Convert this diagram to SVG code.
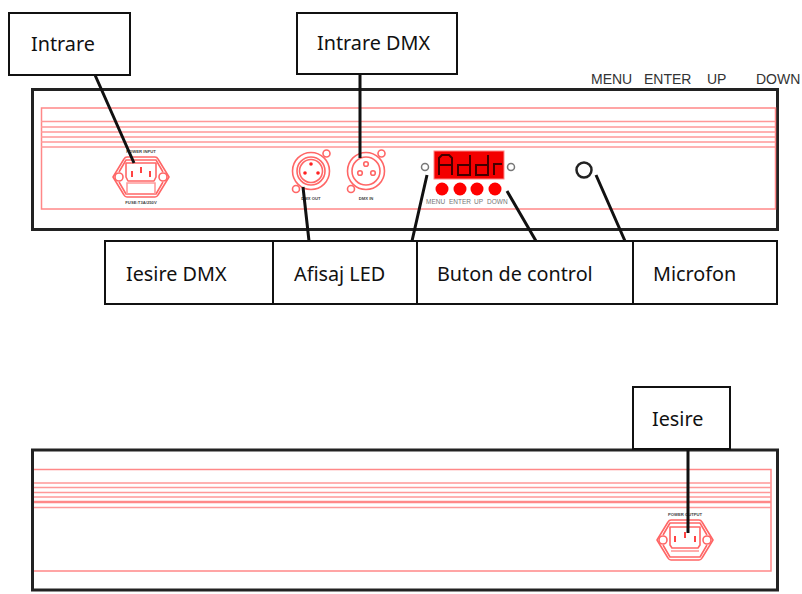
<svg xmlns="http://www.w3.org/2000/svg" width="802" height="594" viewBox="0 0 802 594">
<style>
.panel{fill:#fff;stroke:#222;stroke-width:3}
.box{fill:#fff;stroke:#111;stroke-width:2}
.r{fill:none;stroke:#f88;stroke-width:1.5}
.rl{stroke:#f99;stroke-width:1.6;fill:none}
.w{fill:#fff;stroke:#f66;stroke-width:1.6;stroke-linejoin:round}
.c{fill:none;stroke:#111;stroke-width:3}
.t{font-family:"Noto Sans",Tahoma,sans-serif;font-size:19.8px;fill:#111}
.s{font-family:"Liberation Sans",Arial,sans-serif;font-size:14px;fill:#333}
.m{font-family:"Liberation Sans",Arial,sans-serif;font-size:6.5px;fill:#777}
.p{font-family:"Liberation Sans",Arial,sans-serif;font-size:4.2px;font-weight:bold;fill:#444;text-anchor:middle}
</style>
<defs>
<g id="inlet">
<path class="w" d="M-28 0L-17 -18Q-16 -20 -14 -20H14Q16 -20 17 -18L28 0L17 18Q16 20 14 20H-14Q-16 20 -17 18Z"/>
<path class="w" d="M-22 -5L-15 -17H15L22 -5M-22 5L-15 17H15L22 5" stroke-width="1"/>
<circle class="w" cx="-22" cy="0" r="4"/><circle class="w" cx="22" cy="0" r="4"/>
</g>
</defs>
<g id="panel-top">
<rect class="panel" x="32.500" y="89.500" width="745" height="140"/>
<rect class="r" x="41.500" y="108" width="734" height="101"/>
<path class="rl" d="M41 121.500H775M41 127H775M41 132H775M41 137H775M41 142H775M41 147H775"/>
</g>
<g id="power-input" transform="translate(141,177)">
<use href="#inlet"/>
<path class="w" d="M-15 -14H15V0L13 4H-13L-15 0Z"/>
<path class="rl" d="M-14 17V6H14V17"/>
<path d="M-9 -6V0M0 -10V-4M9 -6V0" stroke="#f44" stroke-width="2" fill="none"/>
<text class="p" y="-24">POWER INPUT</text>
<text class="p" y="27">FUSE:T3A/250V</text>
</g>
<g id="dmx-out" transform="translate(311,171)">
<circle class="w" r="18.500"/><circle class="w" r="14"/><circle class="w" r="11.500"/>
<circle class="w" cx="15.500" cy="-17.500" r="3.500"/><circle class="w" cx="-15" cy="18" r="3.500"/>
<circle cx="0" cy="-7" r="1.800" fill="#f22"/><circle cx="-6" cy="2" r="1.800" fill="#f22"/><circle cx="7" cy="2" r="1.800" fill="#f22"/>
<text class="p" y="29">DMX OUT</text>
</g>
<g id="dmx-in" transform="translate(366,171)">
<circle class="w" r="18.500"/><circle class="w" r="14"/>
<circle class="w" cx="15.500" cy="-17.500" r="3.500"/><circle class="w" cx="-15" cy="18" r="3.500"/>
<circle class="w" cx="0" cy="-7" r="2.300"/><circle class="w" cx="-6" cy="2" r="2.300"/><circle class="w" cx="7" cy="2" r="2.300"/>
<text class="p" y="29">DMX IN</text>
</g>
<g id="display">
<rect x="434" y="151" width="70" height="28" fill="#f30000" stroke="#f88" stroke-width="1"/>
<path d="M439 175V158L442 155H449L452 158V175M439 165H452M458 165H470V175H458ZM470 175V155M476 165H488V175H476ZM488 175V155M494 175V164H502" fill="none" stroke="#400" stroke-width="2"/>
<circle cx="425" cy="167" r="3.500" fill="#fff" stroke="#777" stroke-width="1.500"/>
<circle cx="511" cy="167" r="3.500" fill="#fff" stroke="#777" stroke-width="1.500"/>
<circle cx="442" cy="189" r="6.500" fill="#f00"/><circle cx="460" cy="189" r="6.500" fill="#f00"/><circle cx="477" cy="189" r="6.500" fill="#f00"/><circle cx="495" cy="189" r="6.500" fill="#f00"/>
<text class="m" x="426" y="204">MENU</text><text class="m" x="449" y="204">ENTER</text><text class="m" x="474" y="204">UP</text><text class="m" x="487" y="204">DOWN</text>
</g>
<g id="mic"><circle cx="584" cy="170" r="7.500" fill="#fff" stroke="#222" stroke-width="2.500"/></g>
<g id="panel-bottom">
<rect class="panel" x="32.500" y="450" width="745" height="140"/>
<path class="r" d="M34 469.500H771V571H34"/>
<path class="rl" d="M34 483H771M34 487.500H771M34 492.500H771M34 497H771M34 507.500H771"/>
<path d="M34 502H771" stroke="#f88" stroke-width="2.500"/>
</g>
<g id="power-output" transform="translate(685,540)">
<use href="#inlet"/>
<path class="w" d="M-15 -13H15V5L13 8H-13L-15 5Z"/>
<path class="rl" d="M-14 11H14"/>
<path d="M-10 -4V2M0 -8V-2M10 -4V2" stroke="#f44" stroke-width="2" fill="none"/>
<text class="p" y="-24">POWER OUTPUT</text>
</g>
<g id="connectors">
<path class="c" d="M95 75L134 163M360 74V158M303 187L309 241M427 175L412 241M507 191L536 241M596 175L625 241M688 449V533"/>
</g>
<g id="n-intrare"><rect class="box" x="9" y="13" width="121" height="62"/><text class="t" x="31" y="51">Intrare</text></g>
<g id="n-intrare-dmx"><rect class="box" x="297" y="13" width="160" height="61"/><text class="t" x="317" y="50">Intrare DMX</text></g>
<g id="n-iesire-dmx"><rect class="box" x="105" y="241" width="168" height="63"/><text class="t" x="126" y="281">Iesire DMX</text></g>
<g id="n-afisaj"><rect class="box" x="273" y="241" width="144" height="63"/><text class="t" x="294" y="281">Afisaj LED</text></g>
<g id="n-buton"><rect class="box" x="417" y="241" width="216" height="63"/><text class="t" x="437" y="281">Buton de control</text></g>
<g id="n-microfon"><rect class="box" x="633" y="241" width="144" height="63"/><text class="t" x="653" y="281">Microfon</text></g>
<g id="n-iesire"><rect class="box" x="633" y="387" width="97" height="62"/><text class="t" x="652" y="426">Iesire</text></g>
<g id="button-labels"><text class="s" x="591" y="84">MENU</text><text class="s" x="644" y="84">ENTER</text><text class="s" x="707" y="84">UP</text><text class="s" x="756" y="84">DOWN</text></g>
</svg>
